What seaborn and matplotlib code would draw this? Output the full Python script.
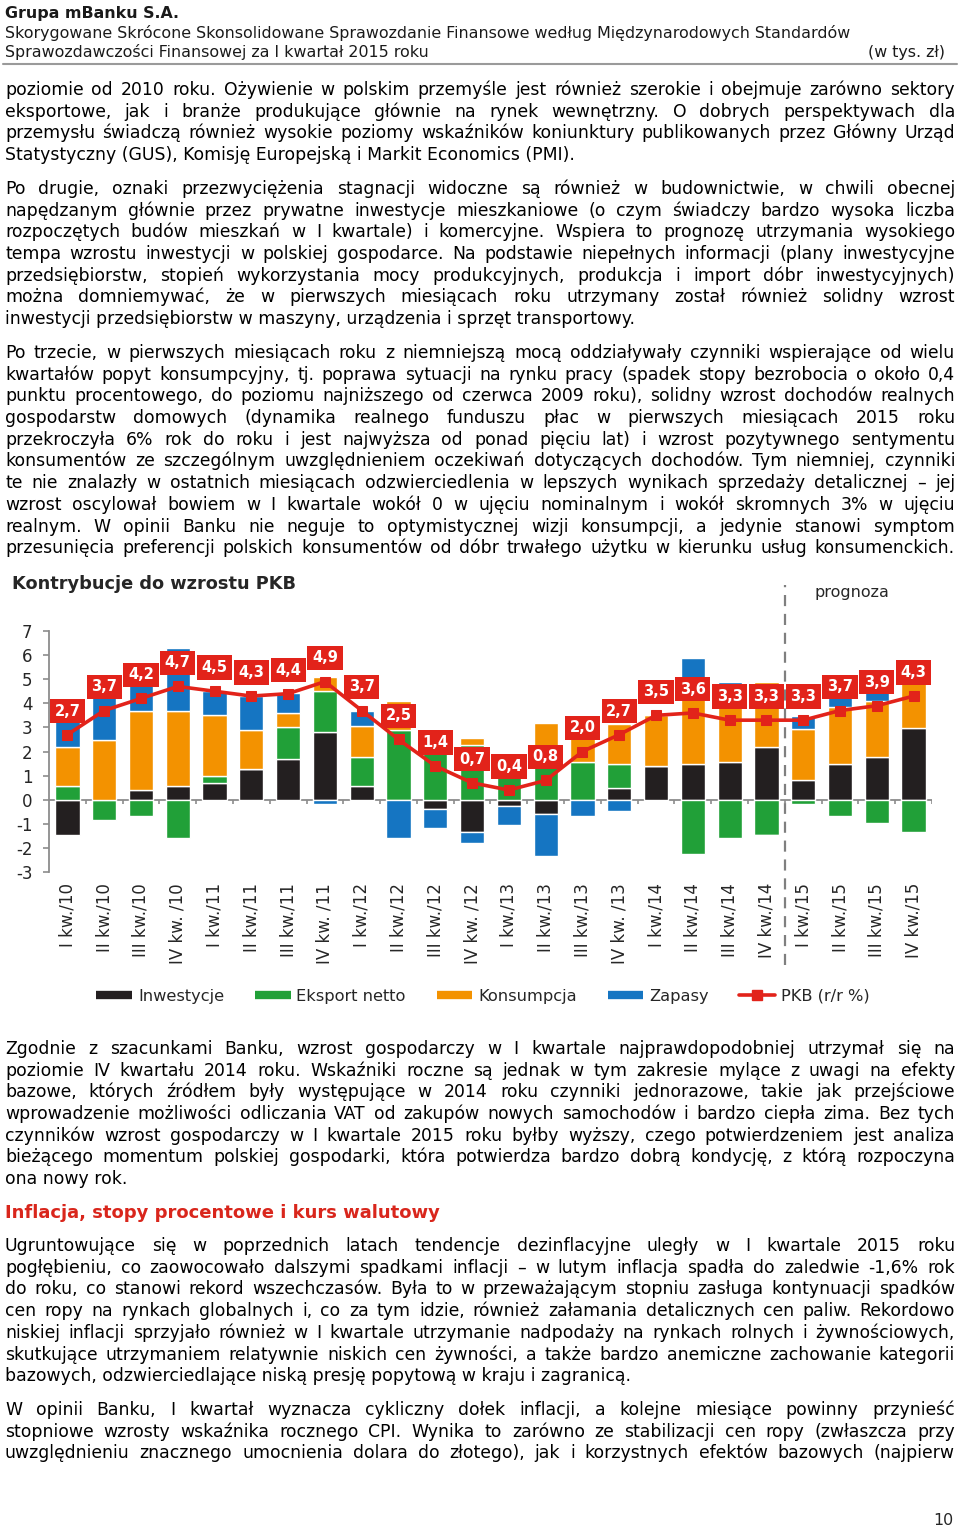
import numpy as np
import pandas as pd
import seaborn as sns
import matplotlib
import matplotlib.pyplot as plt
from matplotlib.lines import Line2D

# --- chart data (contributions to GDP growth, pp) ---
quarters = ['I kw./10', 'II kw./10', 'III kw./10', 'IV kw. /10',
            'I kw./11', 'II kw./11', 'III kw./11', 'IV kw. /11',
            'I kw./12', 'II kw./12', 'III kw./12', 'IV kw. /12',
            'I kw./13', 'II kw./13', 'III kw./13', 'IV kw. /13',
            'I kw./14', 'II kw./14', 'III kw./14', 'IV kw./14',
            'I kw./15', 'II kw./15', 'III kw./15', 'IV kw./15']
inwestycje = [-1.47, 0.0, 0.39, 0.55, 0.68, 1.28, 1.67, 2.80, 0.58, 0.0, -0.37, -1.36,
              -0.28, -0.58, 0.0, 0.47, 1.39, 1.50, 1.58, 2.19, 0.82, 1.49, 1.78, 2.99]
eksport = [0.55, -0.86, -0.67, -1.58, 0.29, 0.0, 1.33, 1.69, 1.21, 2.89, 2.30, 2.25,
           1.30, 1.40, 1.58, 1.02, 0.0, -2.26, -1.58, -1.47, -0.17, -0.67, -0.97, -1.36]
konsumpcja = [1.64, 2.47, 3.29, 3.13, 2.53, 1.62, 0.60, 0.60, 1.28, 1.20, 0.27, 0.32,
              0.13, 1.80, 1.09, 1.67, 2.11, 3.30, 3.20, 2.71, 2.12, 2.37, 2.32, 2.67]
zapasy = [1.98, 2.09, 1.19, 2.60, 1.00, 1.40, 0.82, -0.17, 0.60, -1.58, -0.80, -0.45,
          -0.75, -1.76, -0.67, -0.46, 0.0, 1.10, 0.10, -0.05, 0.53, 0.51, 0.77, 0.0]
pkb = [2.7, 3.7, 4.2, 4.7, 4.5, 4.3, 4.4, 4.9, 3.7, 2.5, 1.4, 0.7,
       0.4, 0.8, 2.0, 2.7, 3.5, 3.6, 3.3, 3.3, 3.3, 3.7, 3.9, 4.3]
series_names = ['Inwestycje', 'Eksport netto', 'Konsumpcja', 'Zapasy']
bar_colors = ['#231f20', '#21a038', '#f39200', '#1575c2']
red = '#e2231a'
forecast_from = 20  # first forecast quarter index

# --- page text ---
header = ['Grupa mBanku S.A.',
          'Skorygowane Skrócone Skonsolidowane Sprawozdanie Finansowe według Międzynarodowych Standardów',
          'Sprawozdawczości Finansowej za I kwartał 2015 roku']
para1 = ['poziomie od 2010 roku. Ożywienie w polskim przemyśle jest również szerokie i obejmuje zarówno sektory',
         'eksportowe, jak i branże produkujące głównie na rynek wewnętrzny. O dobrych perspektywach dla',
         'przemysłu świadczą również wysokie poziomy wskaźników koniunktury publikowanych przez Główny Urząd',
         'Statystyczny (GUS), Komisję Europejską i Markit Economics (PMI).']
para2 = ['Po drugie, oznaki przezwyciężenia stagnacji widoczne są również w budownictwie, w chwili obecnej',
         'napędzanym głównie przez prywatne inwestycje mieszkaniowe (o czym świadczy bardzo wysoka liczba',
         'rozpoczętych budów mieszkań w I kwartale) i komercyjne. Wspiera to prognozę utrzymania wysokiego',
         'tempa wzrostu inwestycji w polskiej gospodarce. Na podstawie niepełnych informacji (plany inwestycyjne',
         'przedsiębiorstw, stopień wykorzystania mocy produkcyjnych, produkcja i import dóbr inwestycyjnych)',
         'można domniemywać, że w pierwszych miesiącach roku utrzymany został również solidny wzrost',
         'inwestycji przedsiębiorstw w maszyny, urządzenia i sprzęt transportowy.']
para3 = ['Po trzecie, w pierwszych miesiącach roku z niemniejszą mocą oddziaływały czynniki wspierające od wielu',
         'kwartałów popyt konsumpcyjny, tj. poprawa sytuacji na rynku pracy (spadek stopy bezrobocia o około 0,4',
         'punktu procentowego, do poziomu najniższego od czerwca 2009 roku), solidny wzrost dochodów realnych',
         'gospodarstw domowych (dynamika realnego funduszu płac w pierwszych miesiącach 2015 roku',
         'przekroczyła 6% rok do roku i jest najwyższa od ponad pięciu lat) i wzrost pozytywnego sentymentu',
         'konsumentów ze szczególnym uwzględnieniem oczekiwań dotyczących dochodów. Tym niemniej, czynniki',
         'te nie znalazły w ostatnich miesiącach odzwierciedlenia w lepszych wynikach sprzedaży detalicznej – jej',
         'wzrost oscylował bowiem w I kwartale wokół 0 w ujęciu nominalnym i wokół skromnych 3% w ujęciu',
         'realnym. W opinii Banku nie neguje to optymistycznej wizji konsumpcji, a jedynie stanowi symptom',
         'przesunięcia preferencji polskich konsumentów od dóbr trwałego użytku w kierunku usług konsumenckich.']
para4 = ['Zgodnie z szacunkami Banku, wzrost gospodarczy w I kwartale najprawdopodobniej utrzymał się na',
         'poziomie IV kwartału 2014 roku. Wskaźniki roczne są jednak w tym zakresie mylące z uwagi na efekty',
         'bazowe, których źródłem były występujące w 2014 roku czynniki jednorazowe, takie jak przejściowe',
         'wprowadzenie możliwości odliczania VAT od zakupów nowych samochodów i bardzo ciepła zima. Bez tych',
         'czynników wzrost gospodarczy w I kwartale 2015 roku byłby wyższy, czego potwierdzeniem jest analiza',
         'bieżącego momentum polskiej gospodarki, która potwierdza bardzo dobrą kondycję, z którą rozpoczyna',
         'ona nowy rok.']
heading = 'Inflacja, stopy procentowe i kurs walutowy'
para5 = ['Ugruntowujące się w poprzednich latach tendencje dezinflacyjne uległy w I kwartale 2015 roku',
         'pogłębieniu, co zaowocowało dalszymi spadkami inflacji – w lutym inflacja spadła do zaledwie -1,6% rok',
         'do roku, co stanowi rekord wszechczasów. Była to w przeważającym stopniu zasługa kontynuacji spadków',
         'cen ropy na rynkach globalnych i, co za tym idzie, również załamania detalicznych cen paliw. Rekordowo',
         'niskiej inflacji sprzyjało również w I kwartale utrzymanie nadpodaży na rynkach rolnych i żywnościowych,',
         'skutkujące utrzymaniem relatywnie niskich cen żywności, a także bardzo anemiczne zachowanie kategorii',
         'bazowych, odzwierciedlające niską presję popytową w kraju i zagranicą.']
para6 = ['W opinii Banku, I kwartał wyznacza cykliczny dołek inflacji, a kolejne miesiące powinny przynieść',
         'stopniowe wzrosty wskaźnika rocznego CPI. Wynika to zarówno ze stabilizacji cen ropy (zwłaszcza przy',
         'uwzględnieniu znacznego umocnienia dolara do złotego), jak i korzystnych efektów bazowych (najpierw']

W, H = 960, 1527
BODY = 12.4
HEAD = 11.4
LS = 21.7

sns.set_style('white')
plt.rcParams['font.family'] = ['DejaVu Sans']
plt.rcParams['axes.unicode_minus'] = False

fig = plt.figure(figsize=(W / 100, H / 100), dpi=100)
renderer = fig.canvas.get_renderer()


def fy(y):
    return 1 - y / H


def put_line(text, y, justify=True, size=BODY, weight='normal', color='black', left=5, right=955):
    if not justify:
        fig.text(left / W, fy(y + 6), text, fontsize=size, fontweight=weight, color=color, va='baseline')
        return
    # word by word so the line can be justified like the page
    words = text.split(' ')
    ts = [fig.text(0, fy(y + 6), w, fontsize=size, fontweight=weight, color=color, va='baseline')
          for w in words]
    ws = [t.get_window_extent(renderer).width for t in ts]
    gap = max((right - left - sum(ws)) / (len(words) - 1), 2)
    x = left
    for t, w in zip(ts, ws):
        t.set_x(x / W)
        x += w + gap


def para(lines, y0, fill_last=False):
    for k, line in enumerate(lines):
        put_line(line, y0 + k * LS, justify=(k < len(lines) - 1) or fill_last)


# header
put_line(header[0], 12, justify=False, size=HEAD, weight='bold', color='#1a1a1a')
put_line(header[1], 32, justify=False, size=HEAD, color='#1a1a1a')
put_line(header[2], 51, justify=False, size=HEAD, color='#1a1a1a')
fig.text(945 / W, fy(57), '(w tys. zł)', fontsize=HEAD, color='#1a1a1a', ha='right', va='baseline')
fig.add_artist(Line2D([3 / W, 957 / W], [fy(64), fy(64)], color='#9a9a9a', lw=1.5))

para(para1, 89)
para(para2, 188)
para(para3, 352, fill_last=True)
para(para4, 1048)
put_line(heading, 1212, justify=False, size=13, weight='bold', color='#d9261c')
para(para5, 1245)
para(para6, 1409, fill_last=True)
fig.text(953 / W, fy(1525), '10', fontsize=HEAD, ha='right', va='baseline')

# --- chart ---
fig.text(12 / W, fy(584), 'Kontrybucje do wzrostu PKB', fontsize=12.8, fontweight='bold', va='center')
fig.text(815 / W, fy(593), 'prognoza', fontsize=11.5, va='center')

ax = fig.add_axes([49 / W, fy(872), (932 - 49) / W, (872 - 631) / H])
df = pd.DataFrame(dict(zip(series_names, [inwestycje, eksport, konsumpcja, zapasy])), index=quarters)
x = np.arange(len(quarters))
pos_base = np.zeros(len(x))
neg_base = np.zeros(len(x))
for name, color in zip(series_names, bar_colors):
    vals = df[name].to_numpy()
    bottom = np.where(vals >= 0, pos_base, neg_base)
    ax.bar(x, vals, bottom=bottom, width=0.66, color=color, edgecolor='white', linewidth=1, zorder=2)
    pos_base += np.clip(vals, 0, None)
    neg_base += np.clip(vals, None, 0)

ax.axhline(0, color='#8c8c8c', lw=1.3, zorder=1)
ax.vlines(x + 0.5, -0.17, 0, color='#8c8c8c', lw=1.2, zorder=1)

line_df = pd.DataFrame({'x': x, 'pkb': pkb})
sns.lineplot(data=line_df, x='x', y='pkb', ax=ax, color=red, lw=2.6, marker='s', ms=7,
             markeredgecolor=red, zorder=4)
for i, v in zip(x, pkb):
    ax.annotate(f'{v:.1f}'.replace('.', ','), (i, v), xytext=(0, 17), textcoords='offset points',
                ha='center', va='center', color='white', fontweight='bold', fontsize=10.5,
                bbox=dict(boxstyle='square,pad=0.32', fc=red, ec='none'), zorder=5)

ax.axvline(forecast_from - 0.5, ymin=-0.386, ymax=1.19, clip_on=False, color='#7f7f7f',
           lw=1.6, ls=(0, (5, 3.5)), zorder=0)

ax.set_xlim(-0.5, len(x) - 0.5)
ax.set_ylim(-3, 7)
ax.set_yticks(range(-3, 8))
ax.set_xticks(x)
ax.set_xticklabels(quarters, rotation=90)
ax.set_xlabel('')
ax.set_ylabel('')
for s in ['top', 'right', 'bottom']:
    ax.spines[s].set_visible(False)
ax.spines['left'].set_color('#8c8c8c')
ax.spines['left'].set_linewidth(1.3)
ax.tick_params(axis='y', left=True, length=4, width=1.2, color='#8c8c8c', pad=8, labelsize=12)
ax.tick_params(axis='x', bottom=False, length=0, pad=8, labelsize=12)

handles = [Line2D([], [], color=c, lw=6, solid_capstyle='butt') for c in bar_colors]
handles.append(Line2D([], [], color=red, lw=2.6, marker='s', ms=7))
fig.legend(handles, series_names + ['PKB (r/r %)'], loc='center', bbox_to_anchor=(483 / W, fy(996)),
           ncol=5, frameon=False, fontsize=11.7, handlelength=2.2, handletextpad=0.35,
           columnspacing=1.9)

fig.savefig('out.png', dpi=100)
